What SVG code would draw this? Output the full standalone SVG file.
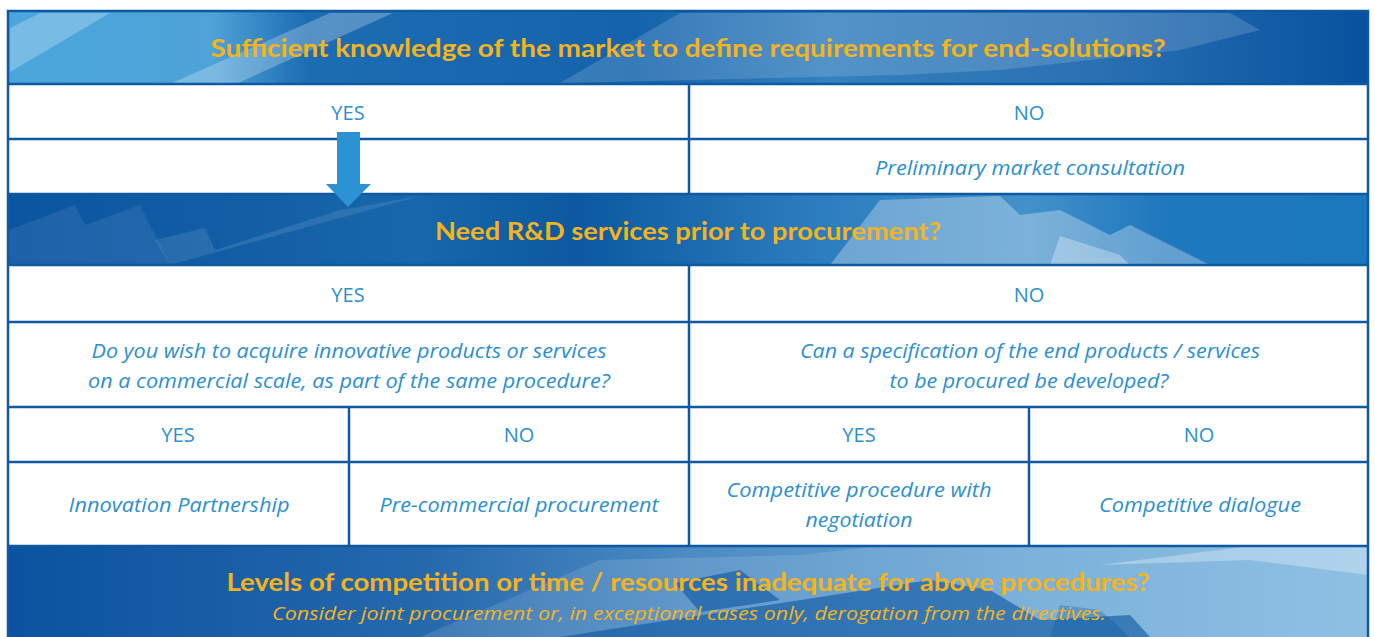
<svg xmlns="http://www.w3.org/2000/svg" width="1375" height="637" viewBox="0 0 1375 637">
<defs>
<linearGradient id="g1" x1="0" y1="0" x2="1" y2="0">
<stop offset="0" stop-color="#4aa6dc"/><stop offset="0.15" stop-color="#4ea3d8"/><stop offset="0.22" stop-color="#1d6db3"/><stop offset="0.46" stop-color="#1463ac"/><stop offset="0.6" stop-color="#3580be"/><stop offset="0.8" stop-color="#2a71b3"/><stop offset="1" stop-color="#07519e"/>
</linearGradient>
<linearGradient id="g2" x1="0" y1="0" x2="1" y2="0">
<stop offset="0" stop-color="#0a55a0"/><stop offset="0.3" stop-color="#1866ab"/><stop offset="0.42" stop-color="#0c59a1"/><stop offset="0.6" stop-color="#2d7ebf"/><stop offset="0.75" stop-color="#4391ca"/><stop offset="0.85" stop-color="#1f78bd"/><stop offset="1" stop-color="#1b78bd"/>
</linearGradient>
<linearGradient id="g3" x1="0" y1="0" x2="1" y2="0">
<stop offset="0" stop-color="#0b52a0"/><stop offset="0.3" stop-color="#2468ac"/><stop offset="0.5" stop-color="#4c8bc3"/><stop offset="0.75" stop-color="#6aa7d5"/><stop offset="1" stop-color="#7fb8e0"/>
</linearGradient>
<style>
.ttl{font-family:Lato,"Open Sans",sans-serif;font-weight:bold;font-size:25px;fill:#f6b41a;text-anchor:middle}
.cell{font-family:"Open Sans",Lato,sans-serif;font-size:20px;fill:#2b8fd0;text-anchor:middle}
.it{font-family:"Open Sans",Lato,sans-serif;font-style:italic;font-size:20px;fill:#2b8fd0;text-anchor:middle}
.sub{font-family:"Open Sans",Lato,sans-serif;font-style:italic;font-size:19px;fill:#f6b41a;text-anchor:middle}
.ln{stroke:#0d5aa2;stroke-width:2.5;fill:none}
.lt{fill:#ffffff;fill-opacity:0.25}
.dk{fill:#0a55a0;fill-opacity:0.6}
</style>
</defs>
<rect x="0" y="0" width="1375" height="637" fill="#ffffff"/>
<g id="banner1">
<rect x="8" y="11" width="1360" height="73" fill="url(#g1)"/>
<polygon class="lt" points="10,72 10,28 40,13 110,13"/>
<polygon class="lt" points="172,83 238,83 393,13 330,13"/>
<polygon class="lt" points="680,13 1230,13 1260,30 1180,50 1000,70 900,75 570,83 560,83" style="fill-opacity:0.15"/>
<text class="ttl" x="688" y="57" textLength="955" lengthAdjust="spacingAndGlyphs">Sufficient knowledge of the market to define requirements for end-solutions?</text>
</g>
<g id="row1">
<rect x="8" y="84" width="1360" height="110" fill="#ffffff"/>
<text class="cell" x="348" y="120">YES</text>
<text class="cell" x="1029" y="120">NO</text>
<text class="it" x="1030" y="175" textLength="310" lengthAdjust="spacingAndGlyphs">Preliminary market consultation</text>
</g>
<g id="banner2">
<rect x="8" y="194" width="1360" height="71" fill="url(#g2)"/>
<polygon class="lt" points="30,222 75,205 85,225 140,205 170,265 8,265 8,230" style="fill-opacity:0.08"/>
<polygon class="lt" points="155,240 205,228 215,250 340,210 420,196 170,265" style="fill-opacity:0.1"/>
<polygon class="lt" points="830,265 880,200 1000,196 1020,215 1060,210 1110,235 1130,225 1210,265" style="fill-opacity:0.3"/>
<polygon class="lt" points="1050,265 1060,236 1120,255 1130,265" style="fill-opacity:0.3"/>
<text class="ttl" x="688" y="240" textLength="506" lengthAdjust="spacingAndGlyphs">Need R&amp;D services prior to procurement?</text>
</g>
<g id="row2">
<rect x="8" y="265" width="1360" height="281" fill="#ffffff"/>
<text class="cell" x="348" y="302">YES</text>
<text class="cell" x="1029" y="302">NO</text>
<text class="it" x="349" y="358" textLength="515" lengthAdjust="spacingAndGlyphs">Do you wish to acquire innovative products or services</text>
<text class="it" x="349" y="388" textLength="522" lengthAdjust="spacingAndGlyphs">on a commercial scale, as part of the same procedure?</text>
<text class="it" x="1030" y="358" textLength="460" lengthAdjust="spacingAndGlyphs">Can a specification of the end products / services</text>
<text class="it" x="1029" y="388" textLength="279" lengthAdjust="spacingAndGlyphs">to be procured be developed?</text>
<text class="cell" x="178" y="442">YES</text>
<text class="cell" x="519" y="442">NO</text>
<text class="cell" x="859" y="442">YES</text>
<text class="cell" x="1199" y="442">NO</text>
<text class="it" x="179" y="512" textLength="221" lengthAdjust="spacingAndGlyphs">Innovation Partnership</text>
<text class="it" x="519" y="512" textLength="279" lengthAdjust="spacingAndGlyphs">Pre-commercial procurement</text>
<text class="it" x="859" y="497" textLength="265" lengthAdjust="spacingAndGlyphs">Competitive procedure with</text>
<text class="it" x="859" y="527" textLength="107" lengthAdjust="spacingAndGlyphs">negotiation</text>
<text class="it" x="1200" y="512" textLength="202" lengthAdjust="spacingAndGlyphs">Competitive dialogue</text>
</g>
<g id="banner3">
<rect x="8" y="546" width="1360" height="91" fill="url(#g3)"/>
<polygon class="lt" points="420,637 600,560 800,555 880,546 1368,546 1368,637" style="fill-opacity:0.12"/>
<polygon class="lt" points="1100,565 1250,560 1368,575 1368,546 1250,546" style="fill-opacity:0.3"/>
<polygon class="dk" points="675,583 740,570 780,600 700,612"/>
<polygon class="dk" points="560,637 930,580 990,590 1040,620 1130,615 1150,637"/>
<polygon class="dk" points="1050,637 1060,605 1100,610 1130,637" style="fill-opacity:0.3"/>
<text class="ttl" x="688" y="591" textLength="923" lengthAdjust="spacingAndGlyphs">Levels of competition or time / resources inadequate for above procedures?</text>
<text class="sub" x="689" y="620" textLength="834" lengthAdjust="spacingAndGlyphs">Consider joint procurement or, in exceptional cases only, derogation from the directives.</text>
</g>
<g id="connectors">
<line class="ln" x1="8" y1="84" x2="1368" y2="84"/>
<line class="ln" x1="8" y1="139" x2="1368" y2="139"/>
<line class="ln" x1="8" y1="194" x2="1368" y2="194"/>
<line class="ln" x1="8" y1="265" x2="1368" y2="265"/>
<line class="ln" x1="8" y1="322" x2="1368" y2="322"/>
<line class="ln" x1="8" y1="407" x2="1368" y2="407"/>
<line class="ln" x1="8" y1="462" x2="1368" y2="462"/>
<line class="ln" x1="8" y1="546" x2="1368" y2="546"/>
<line class="ln" x1="689" y1="84" x2="689" y2="194"/>
<line class="ln" x1="689" y1="265" x2="689" y2="546"/>
<line class="ln" x1="349" y1="407" x2="349" y2="546"/>
<line class="ln" x1="1029" y1="407" x2="1029" y2="546"/>
<rect class="ln" x="8" y="11" width="1360" height="630"/>
<polygon fill="#2b92d3" points="337,132 360,132 360,184 371,184 348,207 326,184 337,184"/>
</g>
</svg>
